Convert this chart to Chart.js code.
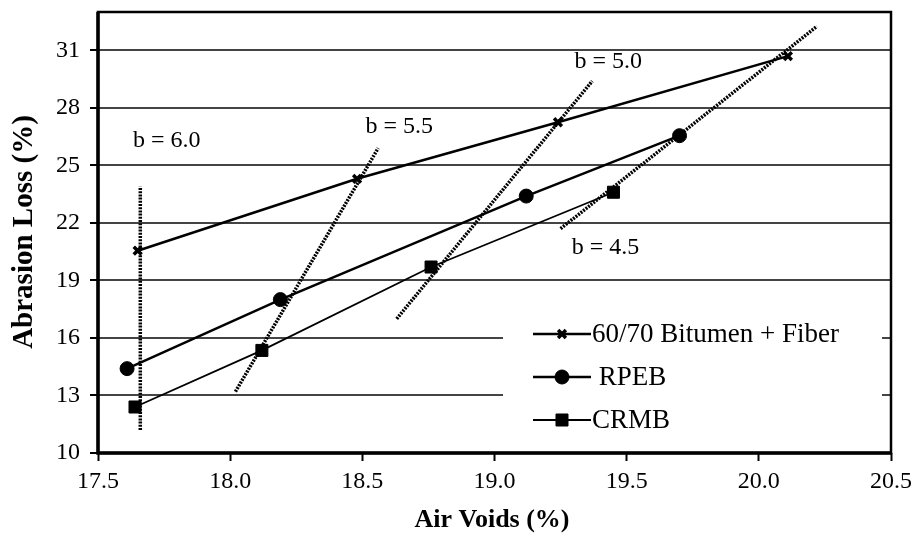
<!DOCTYPE html>
<html>
<head>
<meta charset="utf-8">
<script src="https://cdn.jsdelivr.net/npm/chart.js@4.4.1/dist/chart.umd.min.js"></script>
<style>
  html, body { margin: 0; padding: 0; background: #fff; }
  #wrap { width: 919px; height: 535px; }
</style>
</head>
<body>
<div id="wrap"><canvas id="abrasionChart"></canvas></div>
<script>
const xTicks = [17.5, 18.0, 18.5, 19.0, 19.5, 20.0, 20.5];
const yTicks = [10, 13, 16, 19, 22, 25, 28, 31];

const fiberVoids = [17.65, 18.48, 19.24, 20.11];
const fiberLoss = [20.55, 24.3, 27.25, 30.7];
const rpebVoids = [17.61, 18.19, 19.12, 19.70];
const rpebLoss = [14.4, 18.0, 23.4, 26.55];
const crmbVoids = [17.64, 18.12, 18.76, 19.45];
const crmbLoss = [12.4, 15.35, 19.7, 23.6];

// constant binder content lines (dotted): end points and label spots
const bLabels = ['b = 6.0', 'b = 5.5', 'b = 5.0', 'b = 4.5'];
const bVoids = [[17.66, 17.66], [18.02, 18.56], [18.63, 19.37], [19.25, 20.22]];
const bLoss = [[11.2, 23.9], [13.2, 25.9], [17.0, 29.4], [21.7, 32.25]];
const bLabelVoids = [17.76, 18.64, 19.43, 19.42];
const bLabelLoss = [26.3, 27.0, 30.4, 20.7];

const SERIF = "'Liberation Serif', 'Times New Roman', serif";

function toPoints(xs, ys) {
    return xs.map((x, i) => ({ x: x, y: ys[i] }));
}

const seriesSets = [
    {
        label: '60/70 Bitumen + Fiber',
        data: toPoints(fiberVoids, fiberLoss),
        borderColor: '#000', backgroundColor: '#000',
        borderWidth: 2.5,
        pointStyle: 'crossRot', pointRadius: 5.5, pointBorderWidth: 3.5,
        inLegend: true
    },
    {
        label: ' RPEB',
        data: toPoints(rpebVoids, rpebLoss),
        borderColor: '#000', backgroundColor: '#000',
        borderWidth: 2.5,
        pointStyle: 'circle', pointRadius: 7, pointBorderWidth: 1,
        inLegend: true
    },
    {
        label: 'CRMB',
        data: toPoints(crmbVoids, crmbLoss),
        borderColor: '#000', backgroundColor: '#000',
        borderWidth: 1.8,
        pointStyle: 'rect', pointRadius: 8.5, pointBorderWidth: 1,
        inLegend: true
    }
];

const dottedSets = bLabels.map((name, i) => ({
    label: name,
    data: toPoints(bVoids[i], bLoss[i]),
    borderColor: '#000',
    borderWidth: 3.5,
    borderDash: [2, 1.2],
    pointRadius: 0,
    inLegend: false
}));

// white legend box sits over the grid, contents drawn after the data
const legendBox = { left: 503, top: 305, width: 379, height: 137 };
const legendRows = [334, 377, 420];

const overlay = {
    id: 'overlay',
    beforeDatasetsDraw(chart) {
        const ctx = chart.ctx;
        ctx.save();
        ctx.fillStyle = '#fff';
        ctx.fillRect(legendBox.left, legendBox.top, legendBox.width, legendBox.height);
        ctx.restore();
    },
    afterDatasetsDraw(chart) {
        const ctx = chart.ctx;
        const area = chart.chartArea;
        const xs = chart.scales.x;
        const ys = chart.scales.y;
        ctx.save();

        // legend entries
        const items = chart.data.datasets.filter(d => d.inLegend);
        items.forEach((d, i) => {
            const y = legendRows[i];
            ctx.strokeStyle = '#000';
            ctx.lineWidth = d.borderWidth;
            ctx.beginPath();
            ctx.moveTo(533, y);
            ctx.lineTo(591, y);
            ctx.stroke();
            ctx.fillStyle = '#000';
            ctx.lineWidth = d.pointBorderWidth;
            Chart.helpers.drawPoint(ctx, {
                pointStyle: d.pointStyle, radius: d.pointRadius,
                rotation: 0, borderWidth: d.pointBorderWidth
            }, 562, y);
            ctx.font = '27px ' + SERIF;
            ctx.textAlign = 'left';
            ctx.textBaseline = 'middle';
            ctx.fillText(d.label, 592, y + 1);
        });

        // binder content labels
        ctx.font = '24px ' + SERIF;
        ctx.textAlign = 'center';
        ctx.textBaseline = 'middle';
        ctx.fillStyle = '#000';
        bLabels.forEach((t, i) => {
            ctx.fillText(t, xs.getPixelForValue(bLabelVoids[i]), ys.getPixelForValue(bLabelLoss[i]));
        });

        // plot frame, heavier on the axis sides
        ctx.strokeStyle = '#000';
        ctx.lineWidth = 2.5;
        ctx.strokeRect(area.left, area.top, area.right - area.left, area.bottom - area.top);
        ctx.lineWidth = 3.5;
        ctx.beginPath();
        ctx.moveTo(area.left, area.top);
        ctx.lineTo(area.left, area.bottom);
        ctx.lineTo(area.right, area.bottom);
        ctx.stroke();

        // axis titles
        ctx.font = 'bold 26px ' + SERIF;
        ctx.textAlign = 'center';
        ctx.textBaseline = 'middle';
        ctx.fillText('Air Voids (%)', 492, 520);
        ctx.font = 'bold 29px ' + SERIF;
        ctx.translate(25, 232);
        ctx.rotate(-Math.PI / 2);
        ctx.fillText('Abrasion Loss (%)', 0, 0);
        ctx.restore();
    }
};

const chart = new Chart(document.getElementById('abrasionChart'), {
    type: 'scatter',
    data: { datasets: seriesSets.concat(dottedSets) },
    options: {
        responsive: true,
        maintainAspectRatio: false,
        animation: false,
        showLine: true,
        layout: { padding: { top: 12, right: 28, left: 0, bottom: 0 } },
        plugins: {
            legend: { display: false },
            tooltip: { enabled: false }
        },
        scales: {
            x: {
                type: 'linear',
                min: 17.5,
                max: 20.5,
                afterBuildTicks: (scale) => { scale.ticks = xTicks.map(v => ({ value: v })); },
                afterFit: (scale) => {
                    scale.height = 82;
                    scale.paddingLeft = 0;
                    scale.paddingRight = 0;
                },
                border: { display: false },
                grid: {
                    drawOnChartArea: false,
                    drawTicks: true,
                    tickLength: 8,
                    tickColor: '#000',
                    tickWidth: 2
                },
                ticks: {
                    color: '#000',
                    padding: 6,
                    maxRotation: 0,
                    font: { family: SERIF, size: 24 },
                    callback: (v) => Number(v).toFixed(1)
                }
            },
            y: {
                type: 'linear',
                min: 10,
                max: 33,
                afterBuildTicks: (scale) => { scale.ticks = yTicks.map(v => ({ value: v })); },
                afterFit: (scale) => {
                    scale.width = 98;
                    scale.paddingTop = 0;
                    scale.paddingBottom = 0;
                },
                border: { display: false },
                grid: {
                    color: '#444',
                    lineWidth: 2,
                    tickLength: 8,
                    tickColor: '#000',
                    tickWidth: 2
                },
                ticks: {
                    color: '#000',
                    padding: 10,
                    font: { family: SERIF, size: 24 },
                    callback: (v) => v
                }
            }
        }
    },
    plugins: [overlay]
});
</script>
</body>
</html>
